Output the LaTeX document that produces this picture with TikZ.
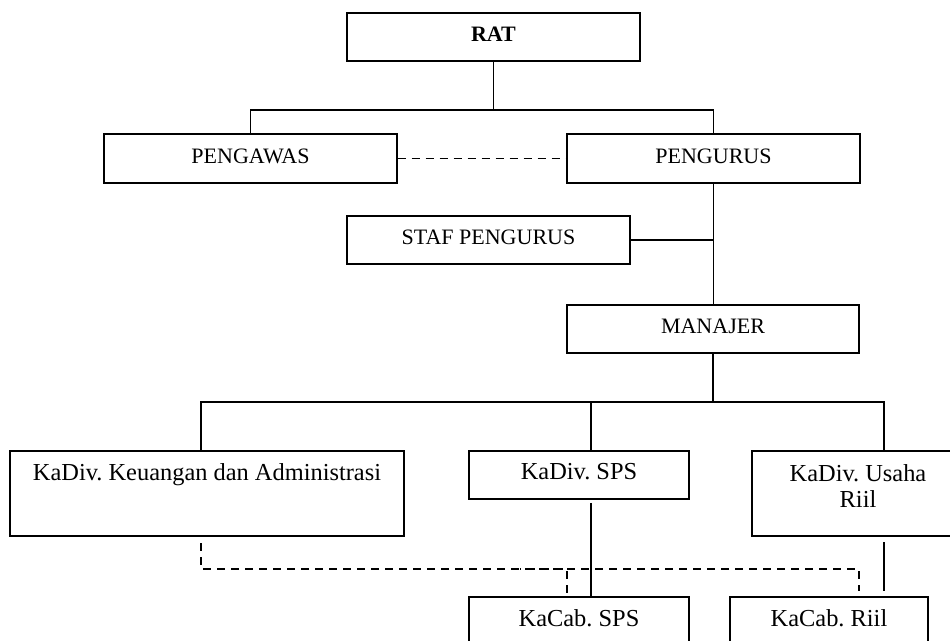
\documentclass[tikz,border=0pt]{standalone}
\usepackage{fontspec}
\setmainfont{Liberation Serif}
\frenchspacing
\newcommand{\mixsize}{\fontsize{18.3}{22}\selectfont}
\begin{document}
\begin{tikzpicture}[x=0.75pt,y=-0.75pt,
  font=\fontsize{16.5}{20}\selectfont,
  box/.style={draw, line width=1.1pt, inner sep=0pt, text height=12pt, text depth=5.2pt},
  link/.style={draw, line width=1.1pt},
  dlink/.style={draw, line width=1.1pt, dash pattern=on 6pt off 4.5pt},
  lbl/.style={anchor=base, inner sep=0pt}]
\useasboundingbox (0,0) rectangle (950,641);
\clip (0,0) rectangle (950,641);

% boxes
\node[box, minimum width=219.75pt, minimum height=36pt] (rat) at (493.5,37) {\bfseries RAT};
\node[box, minimum width=219.75pt, minimum height=36.75pt] (pgw) at (250.5,158.5) {PENGAWAS};
\node[box, minimum width=219.75pt, minimum height=36.75pt] (pgr) at (713.5,158.5) {PENGURUS};
\node[box, minimum width=212.25pt, minimum height=36pt] (stf) at (488.5,240) {STAF PENGURUS};
\node[box, minimum width=219pt, minimum height=36pt] (mnj) at (713,329) {MANAJER};
\node[box, minimum width=295.5pt, minimum height=63.75pt] (keu) at (207,493.5) {};
\node[lbl] (keut) at (207,481) {\mixsize KaDiv. Keuangan dan Administrasi};
\node[box, minimum width=165pt, minimum height=36pt] (sps) at (579,475) {\mixsize KaDiv. SPS};
\node[box, minimum width=159pt, minimum height=63.75pt] (usr) at (858,493.5) {};
\node[lbl] (usrt1) at (858,481.5) {\mixsize KaDiv. Usaha};
\node[lbl] (usrt2) at (858,508) {\mixsize Riil};
\node[box, minimum width=165pt, minimum height=37.5pt] (csps) at (579,622) {\mixsize KaCab. SPS};
\node[box, minimum width=148.5pt, minimum height=37.5pt] (criil) at (829,622) {\mixsize KaCab. Riil};

% junction coordinates
\coordinate (j1) at (493.5,110);
\coordinate (j2) at (713,402);
\coordinate (b1) at (201,402);
\coordinate (b2) at (591,402);
\coordinate (b3) at (884,402);
\coordinate (s1) at (591,503);
\coordinate (r1) at (884,542);
\coordinate (r2) at (884,591);
\coordinate (d0) at (201,543);
\coordinate (d1) at (201,569);
\coordinate (d2) at (859,569);
\coordinate (d3) at (859,591);
\coordinate (d4) at (520,569);
\coordinate (d5) at (567,569);
\coordinate (d6) at (567,593);

% solid connectors
\draw[link] (rat.south) -- (j1);
\draw[link] (pgw.north) |- (j1) -| (pgr.north);
\draw[link] (pgr.south) -- (pgr.south |- mnj.north);
\draw[link] (stf.east) -- (stf.east -| pgr.south);
\draw[link] (mnj.south) -- (j2);
\draw[link] (b1 |- keu.north) -- (b1) -- (b3) -- (b3 |- usr.north);
\draw[link] (b2) -- (b2 |- sps.north);
\draw[link] (s1) -- (s1 |- csps.north);
\draw[link] (r1) -- (r2);

% dashed connectors
\draw[dlink] (pgw.east) -- (pgr.west);
\draw[dlink] (d0) -- (d1) -- (d2) -- (d3);
\draw[dlink, dash phase=5pt] (d4) -- (d5) -- (d6);
\end{tikzpicture}
\end{document}
